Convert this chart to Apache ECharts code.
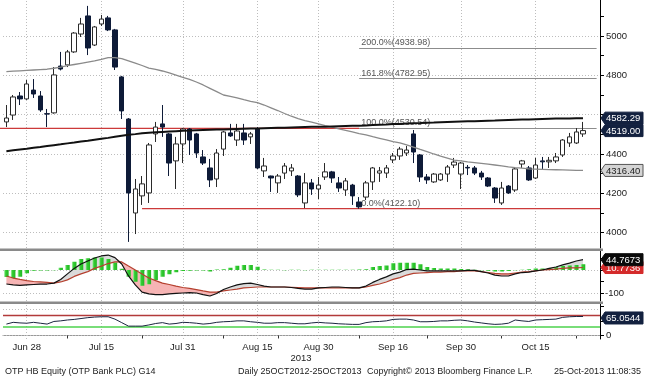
<!DOCTYPE html>
<html><head><meta charset="utf-8">
<script src="https://cdn.jsdelivr.net/npm/echarts@6.0.0/dist/echarts.min.js"></script>
<style>html,body{margin:0;padding:0;background:#fff;}#c{width:645px;height:377px;}</style>
</head><body><div id="c"></div>
<script>
const dates = ['2013-06-25','2013-06-26','2013-06-27','2013-06-28',
'2013-07-01','2013-07-02','2013-07-03','2013-07-04','2013-07-05','2013-07-08','2013-07-09','2013-07-10','2013-07-11','2013-07-12',
'2013-07-15','2013-07-16','2013-07-17','2013-07-18','2013-07-19','2013-07-22','2013-07-23','2013-07-24','2013-07-25','2013-07-26',
'2013-07-29','2013-07-30','2013-07-31','2013-08-01','2013-08-02','2013-08-05','2013-08-06','2013-08-07','2013-08-08','2013-08-09',
'2013-08-12','2013-08-13','2013-08-14','2013-08-15','2013-08-16','2013-08-21','2013-08-22','2013-08-23',
'2013-08-26','2013-08-27','2013-08-28','2013-08-29','2013-08-30','2013-09-02','2013-09-03','2013-09-04','2013-09-05','2013-09-06',
'2013-09-09','2013-09-10','2013-09-11','2013-09-12','2013-09-13','2013-09-16','2013-09-17','2013-09-18','2013-09-19','2013-09-20',
'2013-09-23','2013-09-24','2013-09-25','2013-09-26','2013-09-27','2013-09-30','2013-10-01','2013-10-02','2013-10-03','2013-10-04',
'2013-10-07','2013-10-08','2013-10-09','2013-10-10','2013-10-11','2013-10-14','2013-10-15','2013-10-16','2013-10-17','2013-10-18',
'2013-10-21','2013-10-22','2013-10-24','2013-10-25'];
const opens = [4563,4598,4695,4680,4725,4695,4605,4609,4847,4853,4919,5010,5102,4954,5061,5092,5031,4792,4578,4100,4187,4202,4502,4553,4502,4365,4451,4527,4502,4385,4329,4273,4425,4507,4471,4507,4487,4527,4314,4288,4253,4303,4314,4288,4151,4253,4222,4283,4309,4253,4217,4242,4156,4181,4258,4303,4303,4370,4390,4405,4502,4395,4283,4258,4268,4298,4344,4298,4332,4329,4303,4278,4227,4151,4237,4217,4349,4329,4278,4365,4360,4365,4395,4456,4456,4502];
const closes = [4583,4690,4680,4756,4705,4624,4603,4802,4832,4919,5015,5061,4939,5046,5086,5031,4842,4619,4202,4222,4248,4446,4537,4537,4354,4451,4527,4471,4405,4354,4268,4405,4512,4492,4517,4471,4502,4329,4339,4278,4288,4339,4329,4192,4253,4222,4242,4309,4278,4227,4263,4187,4131,4253,4329,4314,4329,4390,4425,4420,4410,4283,4268,4298,4298,4334,4359,4354,4329,4303,4283,4237,4176,4227,4202,4324,4365,4268,4344,4360,4368,4385,4471,4487,4512,4519.00];
const lows = [4537,4573,4649,4675,4685,4614,4537,4605,4825,4842,4914,4995,4903,4949,5051,5025,4827,4578,3953,3993,4141,4151,4461,4487,4288,4222,4354,4395,4380,4344,4232,4232,4390,4487,4441,4446,4451,4324,4283,4207,4202,4273,4288,4181,4125,4192,4171,4268,4253,4207,4187,4141,4122.1,4166,4217,4258,4278,4354,4370,4390,4354,4258,4248,4253,4263,4258,4329,4222,4293,4293,4268,4232,4151,4141,4197,4207,4329,4263,4273,4324,4329,4354,4385,4436,4451,4487];
const highs = [4649,4700,4715,4776,4781,4720,4629,4842,4919,4929,5020,5092,5153,5051,5107,5102,5036,4797,4583,4273,4288,4456,4563,4649,4507,4487,4532,4532,4507,4420,4375,4425,4517,4553,4553,4553,4512,4537,4380,4290,4298,4354,4349,4293,4303,4273,4283,4354,4314,4283,4278,4248,4181,4263,4334,4334,4344,4405,4436,4441,4522,4400,4298,4303,4303,4344,4380,4359,4344,4339,4314,4283,4232,4258,4242,4329,4370,4339,4380,4385,4385,4405,4476,4507,4532,4563];
const ma200 = [4414,4419,4423,4427,4432,4436,4441,4445,4449,4454,4458,4463,4467,4472,4477,4482,4488,4493,4498,4501,4505,4508,4510,4512,4514,4516,4518,4519,4521,4522,4523,4524,4525,4526,4527,4528,4529,4530,4531,4532,4533,4534,4535,4536,4537,4538,4538,4539,4540,4541,4542,4543,4544,4545,4547,4549,4550,4552,4553,4555,4556,4557,4559,4560,4562,4563,4564,4565,4566,4567,4568,4569,4570,4572,4573,4574,4575,4576,4577,4578,4579,4580,4580.5,4581,4581.8,4582.29];
const ma50 = [4819,4821,4823,4825,4827,4829,4831,4836,4842,4849,4855,4861,4867,4873,4881,4890,4890,4885,4874,4862,4850,4837,4830,4822,4812,4801,4790,4779,4766,4751,4734,4717,4700,4693,4685,4676,4668,4661,4649,4635,4621,4606,4592,4580,4570,4562,4553,4544,4537,4528,4520,4512,4504,4497,4488,4480,4472,4463,4456,4446,4435,4423,4412,4400,4389,4379,4369,4365,4360,4356,4352,4348,4344,4340,4335,4331,4328,4324,4323,4322,4321,4320,4319,4318,4317,4316.40];
const macd = [-61,-65,-67,-65,-63,-61,-61,-57,-41,-17,7,26,39,52,61,65,54,26,-26,-65,-96,-104,-107,-107,-104,-102,-100,-98,-100,-107,-113,-102,-85,-74,-65,-59,-57,-63,-70,-74,-74,-74,-76,-80,-83,-83,-78,-76,-74,-74,-76,-78,-78,-70,-54,-41,-30,-17,-9,2,4,0,-4,-4,-4,-4,-4,-4,-2,-2,-7,-13,-22,-26,-26,-17,-11,-9,-4,0,7,13,22,30,39,44.7673];
const signal = [-26,-35,-41,-46,-50,-52,-54,-57,-52,-43,-28,-17,-7,7,17,28,35,35,17,0,-17,-35,-46,-57,-63,-70,-76,-80,-85,-91,-96,-96,-91,-87,-83,-78,-76,-74,-74,-74,-74,-74,-75,-76,-78,-78,-78,-78,-78,-78,-78,-78,-78,-74,-67,-61,-52,-41,-33,-22,-15,-13,-11,-9,-9,-7,-7,-4,-4,-4,-7,-11,-15,-17,-17,-13,-9,-7,-4,0,2,4,7,9,9,10.7736];
const hist = [-30,-36,-29,-14,-3,-2,-2,-1,10,22,36,48,51,54,54,48,33,5,-29,-51,-68,-62,-44,-29,-19,-10,-4,-3,-2,-2,-6,2,3,10,19,22,22,14,2,1,1,-1,1,1,-1,1,1,1,1,1,1,1,2,3,13,17,20,29,32,32,32,25,13,9,7,6,6,4,3,1,-1,-3,-6,-7,-4,-1,1,3,6,7,9,12,17,20,22,25];
const rsi = [39,45,43,42,45,42,39,48,50,53,55,58,61,63,64,64,56,44,32,32,32,36,41,44,39,41,45,44,42,39,41,45,47,48,50,50,47,45,42,42,44,44,42,40,40,43,45,43,42,40,39,38,38,44,47,48,50,55,56,56,53,47,47,48,50,50,52,53,50,46,43,40,38,39,42,53,50,48,53,54,55,56,62,64,65,65.0544];

const fibLevels = [4938.98, 4782.95, 4530.54, 4122.10];
const fibNames = ['200.0%', '161.8%', '100.0%', '0.0%'];
const fibStartDate = '2013-09-09';
const redLineHigh = 4530.54, redHighEndDate = '2013-09-09';
const redLineLow = 4122.10, redLowStartDate = '2013-07-23';
const priceGrid = [4000, 4200, 4400, 4600, 4800, 5000];
const priceTicks = [4000, 4100, 4200, 4300, 4400, 4500, 4600, 4700, 4800, 4900, 5000, 5100];
const priceLabels = [4000, 4200, 4400, 4800, 5000];
const macdGrid = [0, -100];
const macdTicks = [50, 0, -50, -100];
const macdLabels = [0, -100];
const rsiGrid = [0, 91];
const rsiTicks = [0, 50, 100];
const rsiLabels = [0, 50];
const rsiUpper = 70, rsiLower = 30;
const xLabelDates = ['2013-06-28','2013-07-15','2013-07-31','2013-08-15','2013-08-30','2013-09-16','2013-09-30','2013-10-15'];
const xLabelTexts = ['Jun 28','Jul 15','Jul 31','Aug 15','Aug 30','Sep 16','Sep 30','Oct 15'];
const xTickDates = ['2013-07-08','2013-07-23','2013-08-08','2013-08-22','2013-09-09','2013-09-23','2013-10-08','2013-10-24'];

const chart = echarts.init(document.getElementById('c'), null, {renderer: 'canvas', width: 645, height: 377});
const N = dates.length;
const cats = dates.concat(['pad1', 'pad2']);
const FONT = '"Liberation Sans", Arial, sans-serif';
const labelMap = new Map(xLabelDates.map((d, i) => [d, xLabelTexts[i]]));
const tickSet = new Set(xTickDates);
const dot = {color: '#bdbdbd', type: [1, 2], width: 1};
const vLines = xLabelDates.map(d => ({xAxis: d}));
const gridsPx = [{top: 0, height: 248}, {top: 251, height: 50}, {top: 304, height: 35}];

const candleData = dates.map((d, i) => [opens[i], closes[i], lows[i], highs[i]]);
const base = macd.map((v, i) => Math.min(v, signal[i]));
const upDiff = macd.map((v, i) => Math.max(v - signal[i], 0));
const dnDiff = macd.map((v, i) => Math.max(signal[i] - v, 0));
const plain = v => String(v);

function gridSeries(g, hVals, extra) {
  return {
    type: 'line', xAxisIndex: g, yAxisIndex: g, data: [], silent: true, z: 1,
    markLine: {silent: true, z: 1, symbol: ['none', 'none'], animation: false, label: {show: false},
      lineStyle: dot, data: hVals.map(v => ({yAxis: v})).concat(vLines).concat(extra || [])}
  };
}

const option = {
  animation: false,
  backgroundColor: '#ffffff',
  textStyle: {fontFamily: FONT},
  grid: gridsPx.map(p => ({left: 3, width: 597, top: p.top, height: p.height})),
  xAxis: [0, 1, 2].map(g => ({
    type: 'category', gridIndex: g, data: cats, boundaryGap: true,
    axisLine: {show: g === 2, lineStyle: {color: '#999'}},
    axisTick: {show: g === 2, alignWithLabel: true, interval: (i, v) => tickSet.has(v), length: 3, lineStyle: {color: '#333'}},
    axisLabel: {show: g === 2, interval: (i, v) => labelMap.has(v), formatter: v => labelMap.get(v) || '', fontSize: 9.5, color: '#222', margin: 3, fontFamily: FONT},
    splitLine: {show: false}
  })),
  yAxis: [
    {type: 'value', gridIndex: 0, position: 'right', min: 3922, max: 5183,
     axisLine: {show: true, onZero: false, lineStyle: {color: '#000'}},
     axisTick: {show: true, customValues: priceTicks, length: 4, lineStyle: {color: '#000'}},
     axisLabel: {customValues: priceLabels, formatter: plain, fontSize: 9.5, color: '#222', margin: 6, fontFamily: FONT},
     splitLine: {show: false}},
    {type: 'value', gridIndex: 1, position: 'right', min: -134.8, max: 82.6,
     axisLine: {show: true, onZero: false, lineStyle: {color: '#000'}},
     axisTick: {show: true, customValues: macdTicks, length: 4, lineStyle: {color: '#000'}},
     axisLabel: {customValues: macdLabels, formatter: plain, fontSize: 9.5, color: '#222', margin: 5, fontFamily: FONT},
     splitLine: {show: false}},
    {type: 'value', gridIndex: 2, position: 'right', min: -12, max: 107.7,
     axisLine: {show: true, onZero: false, lineStyle: {color: '#000'}},
     axisTick: {show: true, customValues: rsiTicks, length: 4, lineStyle: {color: '#000'}},
     axisLabel: {customValues: rsiLabels, formatter: plain, fontSize: 9.5, color: '#222', margin: 6, fontFamily: FONT},
     splitLine: {show: false}}
  ],
  series: [
    gridSeries(0, priceGrid),
    {type: 'line', xAxisIndex: 0, yAxisIndex: 0, data: [], silent: true, z: 1,
     markLine: {silent: true, z: 1, symbol: ['none', 'none'], animation: false,
       lineStyle: {color: '#8c8c8c', width: 1, type: 'solid'},
       label: {show: true, position: 'insideStartTop', formatter: '{b}', color: '#555', fontSize: 9, distance: [2, 1], fontFamily: FONT},
       data: fibLevels.map((v, i) => [{name: fibNames[i] + '(' + v.toFixed(2) + ')', coord: [fibStartDate, v]}, {coord: [cats[N + 1], v]}])}},
    {type: 'candlestick', xAxisIndex: 0, yAxisIndex: 0, data: candleData, barWidth: 5, z: 3,
     itemStyle: {color: '#ffffff', color0: '#0e1b38', borderColor: '#2a2a2a', borderColor0: '#0e1b38', borderWidth: 1}},
    {type: 'line', xAxisIndex: 0, yAxisIndex: 0, data: ma50, showSymbol: false, symbol: 'none', z: 4,
     lineStyle: {color: '#8a8a8a', width: 1.3}},
    {type: 'line', xAxisIndex: 0, yAxisIndex: 0, data: ma200, showSymbol: false, symbol: 'none', z: 4,
     lineStyle: {color: '#111111', width: 2}},

    gridSeries(1, macdGrid),
    {type: 'line', xAxisIndex: 1, yAxisIndex: 1, data: base, stack: 'fill', stackStrategy: 'all', symbol: 'none', lineStyle: {width: 0, opacity: 0}, z: 2},
    {type: 'line', xAxisIndex: 1, yAxisIndex: 1, data: upDiff, stack: 'fill', stackStrategy: 'all', symbol: 'none', lineStyle: {width: 0, opacity: 0}, areaStyle: {color: '#dadada', opacity: 1}, z: 2},
    {type: 'line', xAxisIndex: 1, yAxisIndex: 1, data: dnDiff, stack: 'fill', stackStrategy: 'all', symbol: 'none', lineStyle: {width: 0, opacity: 0}, areaStyle: {color: '#f6b4b4', opacity: 1}, z: 2},
    {type: 'bar', xAxisIndex: 1, yAxisIndex: 1, data: hist, barWidth: 4.5, z: 3,
     itemStyle: {color: new echarts.graphic.LinearGradient(0, 0, 1, 0, [{offset: 0, color: '#a8f0a8'}, {offset: 0.35, color: '#33cc33'}, {offset: 1, color: '#22b822'}])}},
    {type: 'line', xAxisIndex: 1, yAxisIndex: 1, data: signal, symbol: 'none', z: 4, lineStyle: {color: '#b5402f', width: 1.2}},
    {type: 'line', xAxisIndex: 1, yAxisIndex: 1, data: macd, symbol: 'none', z: 4, lineStyle: {color: '#111', width: 1.2}},

    gridSeries(2, rsiGrid, [
      {yAxis: rsiUpper, lineStyle: {color: '#b23a3a', width: 1.3, type: 'solid'}},
      {yAxis: rsiLower, lineStyle: {color: '#4cd24c', width: 1.5, type: 'solid'}}
    ]),
    {type: 'line', xAxisIndex: 2, yAxisIndex: 2, data: rsi, symbol: 'none', z: 4, lineStyle: {color: '#1b2540', width: 1}}
  ]
};
chart.setOption(option);

const yPx = (ax, v) => chart.convertToPixel({yAxisIndex: ax}, v);
const xPx = (d) => chart.convertToPixel({xAxisIndex: 0}, d);

function box(yc, text, fill, stroke, color, z) {
  const x = 601, w = 42, h = 12;
  return {type: 'group', z: z || 50, silent: true, children: [
    {type: 'polygon', z: z || 50, shape: {points: [[x, yc], [x + 4, yc - h / 2], [x + w, yc - h / 2], [x + w, yc + h / 2], [x + 4, yc + h / 2]]},
     style: {fill: fill, stroke: stroke, lineWidth: 1}},
    {type: 'text', z: (z || 50) + 1, style: {x: x + 5, y: yc + 0.5, text: text, fill: color, font: '9.5px ' + FONT, verticalAlign: 'middle'}}
  ]};
}

const redStroke = {stroke: '#cc3a3a', lineWidth: 1.3};
const graphics = [
  {type: 'line', z: 2, silent: true, shape: {x1: 0, y1: yPx(0, redLineHigh), x2: xPx(redHighEndDate), y2: yPx(0, redLineHigh)}, style: redStroke},
  {type: 'line', z: 2, silent: true, shape: {x1: xPx(redLowStartDate), y1: yPx(0, redLineLow), x2: 600, y2: yPx(0, redLineLow)}, style: redStroke},
  {type: 'rect', z: 30, silent: true, shape: {x: 0, y: 248.5, width: 603, height: 2.5}, style: {fill: '#8a8a8a'}},
  {type: 'rect', z: 30, silent: true, shape: {x: 0, y: 301.5, width: 603, height: 2.5}, style: {fill: '#8a8a8a'}},
  box(yPx(0, ma200[N - 1]), ma200[N - 1].toFixed(2), '#13213f', '#13213f', '#ffffff'),
  box(yPx(0, closes[N - 1]), closes[N - 1].toFixed(2), '#13213f', '#13213f', '#ffffff'),
  box(yPx(0, ma50[N - 1]), ma50[N - 1].toFixed(2), '#d4d4d4', '#555555', '#222222'),
  box(yPx(1, signal[N - 1]), signal[N - 1].toFixed(4), '#d42a2a', '#d42a2a', '#ffffff', 50),
  box(yPx(1, macd[N - 1]), macd[N - 1].toFixed(4), '#0a0a0a', '#0a0a0a', '#ffffff', 60),
  box(yPx(2, rsi[N - 1]) + 1.5, rsi[N - 1].toFixed(4), '#13213f', '#13213f', '#ffffff'),
  {type: 'text', silent: true, style: {x: 301, y: 358, text: '2013', fill: '#222', font: '9.5px ' + FONT, align: 'center', verticalAlign: 'middle'}},
  {type: 'text', silent: true, style: {x: 5, y: 372, text: 'OTP HB Equity (OTP Bank PLC) G14', fill: '#222', font: '9px ' + FONT, verticalAlign: 'middle'}},
  {type: 'text', silent: true, style: {x: 238, y: 372, text: 'Daily 25OCT2012-25OCT2013', fill: '#222', font: '9px ' + FONT, verticalAlign: 'middle'}},
  {type: 'text', silent: true, style: {x: 367, y: 372, text: 'Copyright\u00a9 2013 Bloomberg Finance L.P.', fill: '#222', font: '9px ' + FONT, verticalAlign: 'middle'}},
  {type: 'text', silent: true, style: {x: 641, y: 372, text: '25-Oct-2013 11:08:35', fill: '#222', font: '9px ' + FONT, align: 'right', verticalAlign: 'middle'}}
];
chart.setOption({graphic: graphics});
</script>
</body></html>
